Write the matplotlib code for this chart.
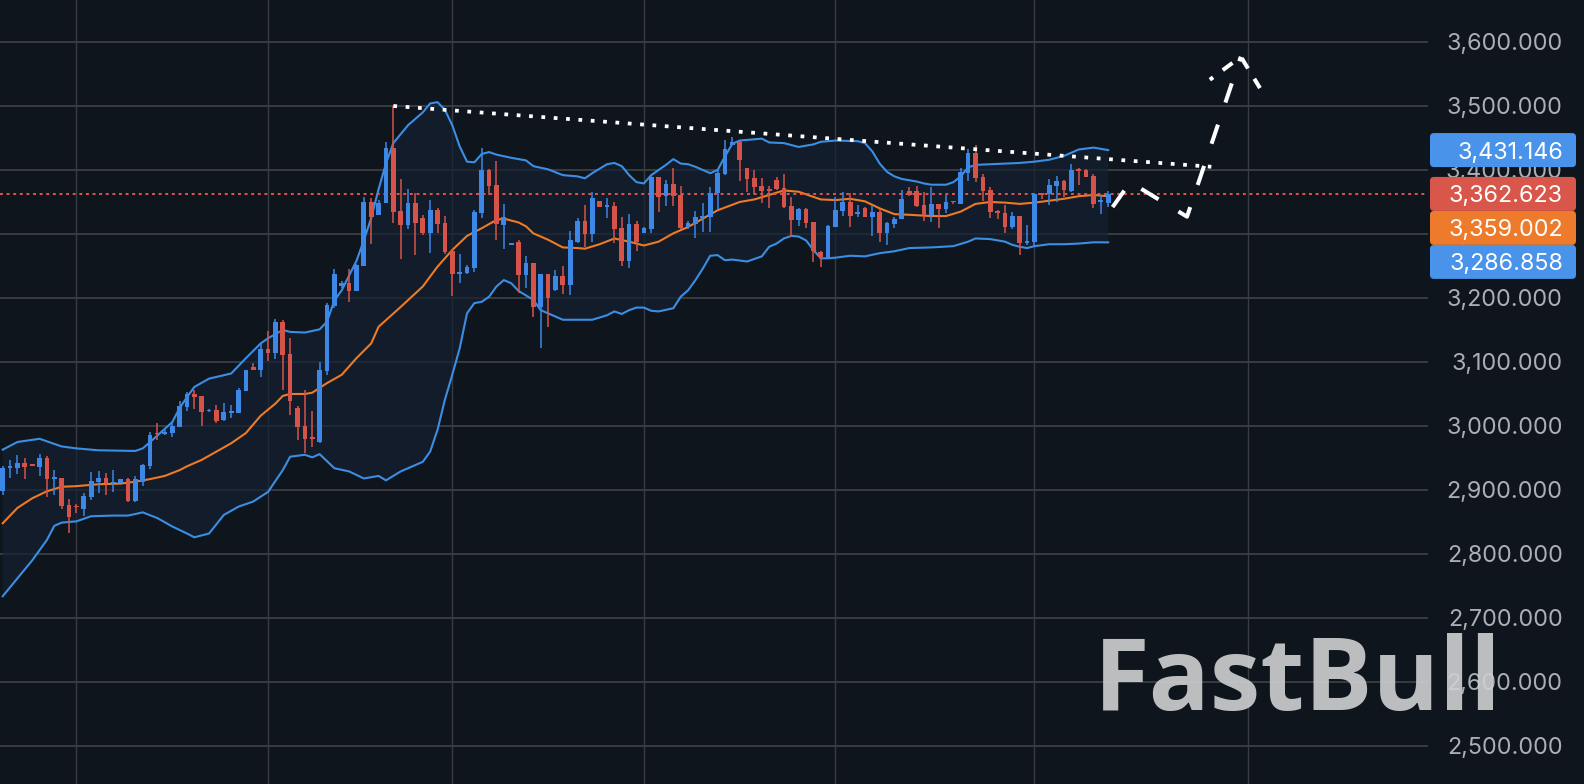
import matplotlib
matplotlib.use("Agg")
import matplotlib.pyplot as plt
from matplotlib.patches import FancyBboxPatch
from matplotlib.transforms import IdentityTransform
import numpy as np

# daily candles
opens = [2898.5, 2934.9, 2934.4, 2941.7, 2940.1, 2936.5, 2950.5, 2917.7, 2918.8, 2876.6,
         2875.0, 2870.9, 2889.6, 2913.0, 2918.3, 2910.9, 2910.9, 2917.7, 2883.4, 2913.0,
         2937.5, 2989.1, 2987.5, 2989.6, 2999.0, 3030.2, 3049.5, 3046.9, 3023.5, 3024.5,
         3009.4, 3020.3, 3020.9, 3055.2, 3092.2, 3088.1, 3120.3, 3114.6, 3162.5, 3112.0,
         3028.2, 3000.5, 2982.3, 2975.5, 3086.5, 3188.0, 3219.3, 3222.9, 3211.0, 3250.5,
         3349.5, 3330.2, 3347.9, 3433.9, 3336.0, 3314.1, 3347.9, 3325.0, 3302.1, 3337.5,
         3317.2, 3274.0, 3237.0, 3238.5, 3247.4, 3333.4, 3400.0, 3376.6, 3314.6, 3282.8,
         3287.0, 3236.5, 3254.2, 3185.4, 3237.5, 3212.5, 3234.4, 3220.8, 3288.0, 3320.3,
         3299.5, 3351.6, 3341.7, 3344.3, 3309.9, 3258.3, 3315.1, 3301.0, 3308.3, 3388.5,
         3359.4, 3378.1, 3360.9, 3310.9, 3315.6, 3325.5, 3326.6, 3364.6, 3393.8, 3439.0,
         3443.2, 3402.6, 3387.0, 3375.0, 3370.3, 3384.4, 3371.3, 3343.7, 3321.9, 3338.5,
         3318.7, 3272.4, 3262.0, 3311.4, 3336.4, 3350.0, 3331.2, 3340.1, 3327.1, 3333.8,
         3301.0, 3315.6, 3322.9, 3367.2, 3367.2, 3345.3, 3329.7, 3346.9, 3339.1, 3352.1,
         3346.9, 3395.8, 3426.0, 3389.6, 3368.7, 3336.5, 3333.3, 3310.4, 3328.1, 3285.4,
         3288.0, 3364.1, 3362.0, 3375.5, 3383.3, 3367.7, 3401.6, 3400.0, 3390.6, 3350.5,
         3349.0]
highs = [2937.5, 2946.9, 2954.2, 2950.0, 2940.1, 2956.3, 2953.1, 2931.3, 2918.8, 2885.9,
         2878.1, 2894.8, 2928.2, 2930.2, 2926.6, 2931.3, 2917.2, 2919.3, 2921.4, 2940.6,
         2990.1, 3004.7, 2994.3, 3004.2, 3039.6, 3053.7, 3056.8, 3046.9, 3026.6, 3032.3,
         3035.4, 3032.3, 3058.9, 3087.0, 3098.5, 3127.6, 3148.5, 3166.7, 3165.6, 3137.0,
         3031.8, 3055.8, 3023.5, 3099.5, 3191.7, 3244.8, 3226.6, 3244.8, 3253.2, 3357.3,
         3355.8, 3353.1, 3443.8, 3500.0, 3386.0, 3369.8, 3364.6, 3329.7, 3353.1, 3340.6,
         3328.1, 3276.1, 3268.8, 3252.1, 3337.5, 3433.9, 3401.6, 3414.1, 3346.9, 3285.4,
         3290.6, 3265.6, 3254.2, 3237.5, 3237.5, 3243.8, 3250.0, 3304.7, 3325.0, 3345.3,
         3365.6, 3351.6, 3356.3, 3349.5, 3326.0, 3331.3, 3320.3, 3311.5, 3390.6, 3389.1,
         3384.4, 3403.6, 3375.0, 3320.3, 3336.5, 3347.9, 3372.9, 3401.0, 3446.9, 3451.0,
         3445.8, 3402.6, 3400.0, 3387.0, 3375.0, 3388.5, 3393.7, 3357.3, 3340.1, 3340.1,
         3318.7, 3273.4, 3314.0, 3357.3, 3365.6, 3363.5, 3345.3, 3341.6, 3345.3, 3339.0,
         3318.2, 3326.0, 3368.7, 3373.9, 3375.0, 3365.6, 3374.0, 3346.9, 3360.4, 3352.1,
         3402.6, 3432.3, 3439.1, 3393.7, 3372.9, 3337.5, 3345.3, 3334.4, 3328.1, 3314.1,
         3363.5, 3364.1, 3386.0, 3390.6, 3384.4, 3409.4, 3402.6, 3401.0, 3393.2, 3360.9,
         3367.2]
lows = [2892.2, 2919.3, 2925.5, 2917.7, 2938.0, 2922.4, 2889.6, 2892.2, 2870.3, 2833.4,
        2864.6, 2859.9, 2883.9, 2895.9, 2892.7, 2897.4, 2910.9, 2881.8, 2881.8, 2906.3,
        2933.4, 2978.1, 2986.0, 2983.4, 2999.0, 3024.0, 3027.1, 3000.5, 3022.4, 3004.2,
        3008.4, 3013.0, 3020.9, 3055.2, 3088.1, 3077.1, 3102.1, 3105.2, 3055.8, 3016.7,
        2977.6, 2957.3, 2967.7, 2973.5, 3079.2, 3184.9, 3215.1, 3194.3, 3211.0, 3250.5,
        3284.4, 3329.7, 3347.9, 3316.7, 3260.4, 3307.3, 3266.7, 3299.0, 3269.8, 3301.1,
        3268.8, 3203.1, 3224.0, 3237.5, 3241.2, 3324.5, 3360.4, 3290.6, 3276.1, 3282.8,
        3208.4, 3216.2, 3169.8, 3121.4, 3155.2, 3210.9, 3206.3, 3205.2, 3286.5, 3280.2,
        3287.5, 3341.7, 3324.5, 3285.4, 3250.5, 3246.4, 3272.9, 3301.0, 3301.0, 3333.9,
        3344.3, 3344.3, 3307.8, 3308.3, 3294.3, 3302.6, 3302.6, 3339.6, 3392.2, 3439.0,
        3383.3, 3366.1, 3362.5, 3347.9, 3340.6, 3368.7, 3340.1, 3295.8, 3312.5, 3308.8,
        3256.8, 3248.9, 3262.0, 3310.4, 3328.1, 3311.4, 3326.0, 3326.0, 3297.4, 3288.0,
        3282.8, 3309.9, 3322.9, 3359.4, 3341.6, 3320.8, 3319.3, 3309.9, 3332.3, 3346.9,
        3346.9, 3383.3, 3381.8, 3351.6, 3325.5, 3323.4, 3302.1, 3307.3, 3267.2, 3282.8,
        3280.2, 3354.7, 3345.3, 3350.5, 3358.3, 3365.6, 3376.6, 3389.6, 3341.1, 3331.8,
        3341.6]
closes = [2933.9, 2938.0, 2942.7, 2936.5, 2938.0, 2950.0, 2917.7, 2919.8, 2875.5, 2858.4,
          2872.9, 2890.7, 2914.1, 2918.8, 2910.4, 2912.5, 2917.2, 2883.4, 2916.7, 2939.1,
          2986.0, 2987.0, 2991.2, 3000.0, 3031.3, 3050.0, 3045.9, 3021.9, 3025.5, 3008.4,
          3021.4, 3023.5, 3056.3, 3087.0, 3088.1, 3120.9, 3114.6, 3162.5, 3111.0, 3038.6,
          2999.0, 2980.2, 2980.2, 3087.5, 3189.1, 3237.0, 3222.9, 3211.0, 3251.6, 3350.0,
          3327.1, 3348.5, 3433.9, 3334.9, 3314.6, 3347.9, 3317.7, 3301.1, 3337.5, 3316.2,
          3272.4, 3237.0, 3240.1, 3249.0, 3334.9, 3400.0, 3375.0, 3315.6, 3326.6, 3285.4,
          3236.5, 3254.2, 3185.4, 3237.5, 3200.5, 3234.4, 3220.8, 3290.6, 3320.3, 3299.5,
          3356.8, 3341.7, 3345.3, 3308.3, 3258.3, 3315.1, 3287.5, 3309.9, 3388.5, 3358.3,
          3378.1, 3359.4, 3309.9, 3317.7, 3326.0, 3328.1, 3364.6, 3395.8, 3432.8, 3443.2,
          3415.6, 3385.9, 3373.9, 3367.7, 3367.7, 3370.3, 3341.6, 3321.9, 3339.0, 3317.7,
          3273.4, 3263.5, 3312.5, 3337.5, 3350.5, 3328.6, 3334.4, 3327.1, 3333.8, 3301.0,
          3316.7, 3323.4, 3354.1, 3360.4, 3343.7, 3329.7, 3346.9, 3339.1, 3350.5, 3349.5,
          3396.9, 3426.0, 3388.0, 3367.7, 3334.9, 3333.3, 3310.4, 3328.1, 3285.4, 3289.1,
          3362.5, 3361.5, 3376.6, 3383.3, 3368.7, 3400.0, 3399.0, 3389.6, 3346.9, 3352.6,
          3362.6]

# bollinger bands (read at candle positions)
upper_idx = [0, 2, 5, 8, 10, 13, 18, 19, 20, 23, 24, 25, 26, 28, 31, 33, 35, 36, 38, 39,
             41, 43, 44, 45, 46, 48, 49, 50, 51, 52, 53, 55, 57, 58, 59, 60, 61, 62, 63, 64,
             65, 66, 67, 69, 71, 72, 74, 76, 78, 79, 80, 82, 83, 84, 85, 86, 87, 88, 89, 90,
             91, 92, 93, 94, 95, 96, 97, 98, 99, 100, 103, 104, 106, 108, 110, 111, 113, 116, 117, 118,
             119, 120, 121, 122, 124, 125, 126, 128, 129, 130, 131, 132, 134, 136, 138, 140, 142, 144, 145, 146,
             148, 150]
upper_val = [2963, 2975, 2980, 2968, 2965, 2962, 2961, 2965, 2975, 3006, 3028, 3045, 3061, 3074, 3082, 3106, 3129, 3137, 3150, 3147,
             3146, 3151, 3163, 3196, 3212, 3258, 3290, 3325, 3370, 3410, 3442, 3470, 3490, 3504, 3506, 3494, 3470, 3437, 3413, 3412,
             3425, 3428, 3424, 3419, 3415, 3406, 3401, 3392, 3390, 3387, 3395, 3409, 3411, 3406, 3392, 3381, 3379, 3392, 3400, 3408,
             3417, 3410, 3409, 3405, 3400, 3395, 3400, 3421, 3441, 3446, 3449, 3443, 3442, 3436, 3440, 3444, 3446, 3445, 3442, 3429,
             3410, 3397, 3390, 3386, 3382, 3379, 3377, 3377, 3381, 3390, 3404, 3408, 3409, 3410, 3411, 3413, 3416, 3422, 3427, 3432,
             3435, 3431.1]
mid_idx = [0, 2, 4, 6, 8, 10, 13, 16, 18, 20, 22, 24, 25, 27, 29, 31, 33, 35, 37, 38,
           39, 41, 42, 44, 46, 48, 50, 51, 54, 57, 59, 61, 63, 65, 67, 68, 70, 71, 72, 74,
           76, 78, 79, 81, 83, 85, 87, 89, 91, 93, 95, 97, 100, 102, 104, 106, 108, 109, 111, 113,
           115, 117, 119, 121, 123, 126, 128, 130, 132, 134, 136, 138, 140, 142, 144, 146, 148, 150]
mid_val = [2848, 2872, 2887, 2898, 2905, 2906, 2909, 2910, 2913, 2917, 2922, 2931, 2937, 2947, 2960, 2973, 2989, 3016, 3035, 3047,
           3050, 3050, 3052, 3067, 3080, 3106, 3129, 3155, 3186, 3218, 3249, 3275, 3297, 3309, 3322, 3324, 3318, 3312, 3301, 3291,
           3279, 3278, 3277, 3284, 3293, 3288, 3282, 3288, 3301, 3311, 3324, 3337, 3350, 3354, 3361, 3368, 3366, 3362, 3354, 3353,
           3355, 3351, 3340, 3331, 3330, 3328, 3328, 3335, 3347, 3350, 3349, 3347, 3349, 3352, 3355, 3359, 3361, 3359.0]
lower_idx = [0, 2, 4, 5, 6, 7, 8, 10, 12, 15, 17, 19, 21, 23, 25, 26, 28, 30, 32, 34,
             36, 38, 39, 41, 42, 43, 45, 47, 49, 51, 52, 54, 57, 58, 59, 60, 61, 62, 63, 64,
             65, 66, 67, 68, 69, 70, 72, 73, 75, 76, 78, 80, 82, 83, 84, 85, 86, 87, 88, 89,
             91, 92, 93, 94, 95, 96, 97, 98, 99, 101, 103, 104, 105, 106, 107, 108, 109, 110, 111, 112,
             113, 115, 117, 119, 121, 123, 126, 129, 131, 132, 134, 136, 137, 138, 139, 140, 142, 144, 146, 148,
             150]
lower_val = [2734, 2762, 2790, 2806, 2822, 2844, 2849, 2851, 2859, 2860, 2860, 2865, 2856, 2843, 2832, 2826, 2832, 2861, 2874, 2882,
             2897, 2931, 2952, 2955, 2951, 2956, 2934, 2929, 2918, 2922, 2915, 2929, 2944, 2960, 2994, 3041, 3080, 3121, 3176, 3192,
             3194, 3202, 3218, 3228, 3223, 3211, 3197, 3181, 3171, 3166, 3166, 3166, 3173, 3179, 3175, 3181, 3185, 3185, 3180, 3179,
             3184, 3202, 3212, 3228, 3246, 3266, 3267, 3259, 3260, 3257, 3265, 3280, 3285, 3293, 3297, 3296, 3290, 3275, 3262, 3262,
             3263, 3266, 3265, 3270, 3273, 3278, 3279, 3281, 3288, 3293, 3292, 3288, 3283, 3280, 3278, 3281, 3284, 3284, 3285, 3287,
             3286.9]

price_ticks = [2500, 2600, 2700, 2800, 2900, 3000, 3100, 3200, 3300, 3400, 3500, 3600]
month_idx = [10, 36, 61, 87, 113, 140, 169]

last_price = 3362.623
tags = [(3431.146, '#4a93ea'), (3362.623, '#d8564a'), (3359.002, '#ee7b2c'), (3286.858, '#4a93ea')]

# drawings: resistance line and projected path
trend_idx = [53, 164]
trend_val = [3500.0, 3405.0]
proj_idx = [150.6, 153, 160.7, 168]
proj_val = [3342, 3381, 3327, 3577]
arrow_idx = [163.8, 168, 170.6]
arrow_val = [3541, 3577, 3528]

BG = '#0f151c'
GRID = '#393d43'
UP = '#3d87e6'
DOWN = '#d6534a'
BAND = '#3b8ee3'
MID = '#ee7a24'

plt.rcParams['font.family'] = ['Inter', 'DejaVu Sans']

W, H = 1584, 784
fig = plt.figure(figsize=(W / 100, H / 100), dpi=100, facecolor=BG)
ax = fig.add_axes([0, 0, 1428 / W, 1])
ax.set_facecolor(BG)
ax.set_xlim(-0.37, 193.4)
ax.set_ylim(2440.6, 3665.6)
for s in ax.spines.values():
    s.set_visible(False)

# grid
ax.set_yticks(price_ticks)
ax.set_yticklabels([f"{v:,.3f}" for v in price_ticks])
ax.set_xticks(month_idx)
ax.set_xticklabels([])
ax.grid(axis='y', color=GRID, lw=1.4, zorder=0)
ax.grid(axis='x', color=GRID, lw=1.0, zorder=0)
ax.set_axisbelow(True)
ax.yaxis.tick_right()
ax.tick_params(axis='y', length=0, pad=97, labelcolor='#abafb5', labelsize=16.8)
ax.tick_params(axis='x', length=0)
for lbl in ax.get_yticklabels():
    lbl.set_horizontalalignment('right')

# band fill + lines
poly_x = np.concatenate([upper_idx, lower_idx[::-1]])
poly_y = np.concatenate([upper_val, lower_val[::-1]])
ax.fill(poly_x, poly_y, color='#142030', alpha=0.7, lw=0, zorder=0.6)
ax.plot(upper_idx, upper_val, color=BAND, lw=1.5, zorder=2)
ax.plot(lower_idx, lower_val, color=BAND, lw=1.5, zorder=2)
ax.plot(mid_idx, mid_val, color=MID, lw=1.5, zorder=2)

# candles
o = np.array(opens)
c = np.array(closes)
idx = np.arange(len(o))
cols = [UP if cc >= oo else DOWN for oo, cc in zip(o, c)]
ax.vlines(idx, lows, highs, colors=cols, lw=1.1, zorder=3)
ax.bar(idx, np.maximum(np.abs(c - o), 2.0), bottom=np.minimum(o, c), width=0.64,
       color=cols, lw=0, zorder=3)

# last price line
ax.axhline(last_price, color='#e0554a', lw=1.4, ls=(0, (1.5, 1.9)), zorder=2.5)

# drawings
ax.plot(trend_idx, trend_val, color='white', lw=2.7, ls=(0, (1, 2.3)),
        dash_capstyle='butt', zorder=4)
ax.plot(proj_idx, proj_val, color='white', lw=2.9, ls=(0, (5, 5.8)),
        dash_capstyle='butt', zorder=4, clip_on=False)
ax.plot(arrow_idx, arrow_val, color='white', lw=2.9, ls=(2, (3, 3)),
        dash_capstyle='butt', zorder=4, clip_on=False)

# watermark
ax.text(1094 / W, 74 / H, 'FastBull', transform=fig.transFigure, fontsize=73,
        fontweight='bold', family=['Open Sans', 'DejaVu Sans'], color='#cfd0d2',
        alpha=0.9, ha='left', va='baseline', zorder=2.2, clip_on=False)

# price tags on the right
prev = None
for price, col in tags:
    y = ax.transData.transform((0, price))[1]
    if prev is not None and y > prev - 34:
        y = prev - 34
    prev = y
    box = FancyBboxPatch((1430, y - 17), 146, 34, boxstyle='round,pad=0,rounding_size=4',
                         transform=IdentityTransform(), facecolor=col, edgecolor='none')
    fig.add_artist(box)
    fig.text(1563 / W, y / H, f"{price:,.3f}", color='white', fontsize=16.8,
             ha='right', va='center_baseline')

fig.savefig('out.png', dpi=100, facecolor=BG)
